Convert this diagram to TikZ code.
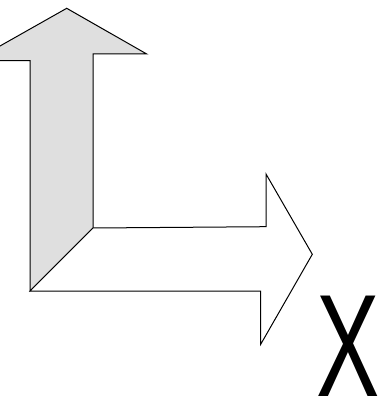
\documentclass[tikz,border=0pt]{standalone}
\usepackage{fontspec}
\setmainfont{Liberation Sans}
\begin{document}
\begin{tikzpicture}[x=1pt,y=-1pt,
  outl/.style={draw=black,line width=1pt,line join=miter},
  grayfill/.style={outl,fill=gray!25},
  whitefill/.style={outl,fill=white}]
\useasboundingbox (0,0) rectangle (382,406);
\clip (0,0) rectangle (382,406);
% up arrow (gray)
\coordinate (tip) at (66.7,8.3);
\coordinate (inner) at (93,228);
\coordinate (outer) at (30,291);
\draw[grayfill] (tip) -- (146.7,54) -- (93,54) -- (inner) -- (outer) -- (30,60.7) -- (-26,60.7) -- cycle;
% right arrow (white)
\draw[whitefill] (inner) -- (266,226.7) -- (266,174) -- (312.3,254.3) -- (260.7,344.3) -- (260.7,291) -- (outer) -- cycle;
% label
\node[anchor=north west,inner sep=0pt,font=\fontsize{146}{146}\selectfont] (lbl) at (316,296) {\scalebox{0.65}[1]{X}};
\end{tikzpicture}
\end{document}
